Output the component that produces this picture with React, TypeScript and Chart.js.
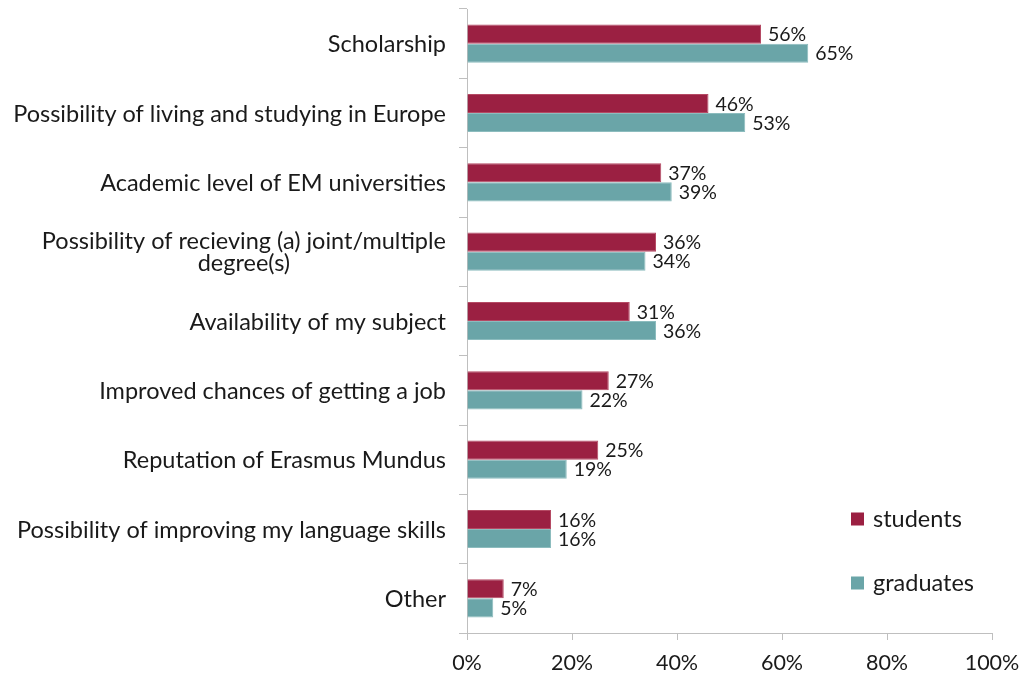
import React, { useEffect, useRef } from "react";
import { Chart, registerables } from "chart.js";

Chart.register(...registerables);

const categories: string[][] = [
  ["Scholarship"],
  ["Possibility of living and studying in Europe"],
  ["Academic level of EM universities"],
  ["Possibility of recieving (a) joint/multiple", "degree(s)"],
  ["Availability of my subject"],
  ["Improved chances of getting a job"],
  ["Reputation of Erasmus Mundus"],
  ["Possibility of improving my language skills"],
  ["Other"],
];
const students = [56, 46, 37, 36, 31, 27, 25, 16, 7];
const graduates = [65, 53, 39, 34, 36, 22, 19, 16, 5];
const seriesNames = ["students", "graduates"];
const xTickValues = [0, 20, 40, 60, 80, 100];

const FONT = "Lato, 'Open Sans', sans-serif";
const TEXT = "#1a1a1a";
const AXIS = "#bfbfbf";
const COLORS = ["#9b2042", "#6aa5a8"];
const BORDERS = ["#b54a64", "#8cbcbe"];

const catLabelPlugin = {
  id: "catLabels",
  afterDraw(chart: any) {
    const ctx = chart.ctx;
    const y = chart.scales.y;
    const right = chart.chartArea.left - 21;
    ctx.save();
    ctx.font = `23.5px ${FONT}`;
    ctx.fillStyle = TEXT;
    ctx.textBaseline = "middle";
    ctx.textAlign = "center";
    const lh = 22.5;
    categories.forEach((lines, i) => {
      const cy = y.getPixelForValue(i) + 1;
      const maxW = Math.max(...lines.map((l) => ctx.measureText(l).width));
      const cx = right - maxW / 2;
      const start = cy - ((lines.length - 1) * lh) / 2;
      lines.forEach((l, j) => ctx.fillText(l, cx, start + j * lh));
    });
    ctx.restore();
  },
};

const valueLabelPlugin = {
  id: "valueLabels",
  afterDatasetsDraw(chart: any) {
    const ctx = chart.ctx;
    ctx.save();
    ctx.font = `19.5px ${FONT}`;
    ctx.fillStyle = TEXT;
    ctx.textBaseline = "middle";
    ctx.textAlign = "left";
    chart.data.datasets.forEach((ds: any, di: number) => {
      const meta = chart.getDatasetMeta(di);
      meta.data.forEach((bar: any, i: number) => {
        ctx.fillText(`${ds.data[i]}%`, bar.x + 7, bar.y + 1);
      });
    });
    ctx.restore();
  },
};

const legendPlugin = {
  id: "customLegend",
  afterDraw(chart: any) {
    const ctx = chart.ctx;
    const ca = chart.chartArea;
    const x = ca.right - 141;
    const ys = [ca.bottom - 114, ca.bottom - 50];
    ctx.save();
    ctx.font = `23.5px ${FONT}`;
    ctx.textBaseline = "middle";
    ctx.textAlign = "left";
    seriesNames.forEach((name, i) => {
      ctx.fillStyle = COLORS[i];
      ctx.fillRect(x, ys[i] - 6.5, 13, 13);
      ctx.fillStyle = TEXT;
      ctx.fillText(name, x + 22, ys[i]);
    });
    ctx.restore();
  },
};

export default function App() {
  const ref = useRef<HTMLCanvasElement | null>(null);
  useEffect(() => {
    if (!ref.current) return;
    const chart = new Chart(ref.current, {
      type: "bar",
      data: {
        labels: categories.map((c) => c.join(" ")),
        datasets: [
          {
            label: seriesNames[0],
            data: students,
            backgroundColor: COLORS[0],
            borderColor: BORDERS[0],
            borderWidth: 1,
          },
          {
            label: seriesNames[1],
            data: graduates,
            backgroundColor: COLORS[1],
            borderColor: BORDERS[1],
            borderWidth: 1,
          },
        ],
      },
      options: {
        indexAxis: "y",
        animation: false,
        responsive: true,
        maintainAspectRatio: false,
        datasets: { bar: { barPercentage: 1, categoryPercentage: 0.55 } },
        layout: { padding: { top: 9, right: 34, left: 0, bottom: 0 } },
        plugins: { legend: { display: false }, tooltip: { enabled: false } },
        scales: {
          x: {
            min: 0,
            max: 100,
            afterBuildTicks: (s: any) => {
              s.ticks = xTickValues.map((v) => ({ value: v }));
            },
            afterFit: (s: any) => {
              s.height = 46;
              s.paddingLeft = 0;
              s.paddingRight = 0;
            },
            ticks: {
              color: TEXT,
              font: { family: FONT, size: 21.5 },
              padding: 10,
              callback: (v: any) => `${v}%`,
            },
            grid: { drawOnChartArea: false, drawTicks: true, tickLength: 7, color: AXIS },
            border: { color: AXIS, width: 1 },
          },
          y: {
            afterFit: (s: any) => {
              s.width = 467;
              s.paddingTop = 0;
              s.paddingBottom = 0;
            },
            ticks: { display: false },
            grid: { offset: true, drawOnChartArea: false, drawTicks: true, tickLength: 8, color: AXIS },
            border: { color: AXIS, width: 1 },
          },
        },
      },
      plugins: [catLabelPlugin, valueLabelPlugin, legendPlugin],
    });
    return () => chart.destroy();
  }, []);
  return (
    <div style={{ position: "fixed", left: 0, top: 0, width: 1026, height: 679, background: "#fff" }}>
      <canvas ref={ref} />
    </div>
  );
}
